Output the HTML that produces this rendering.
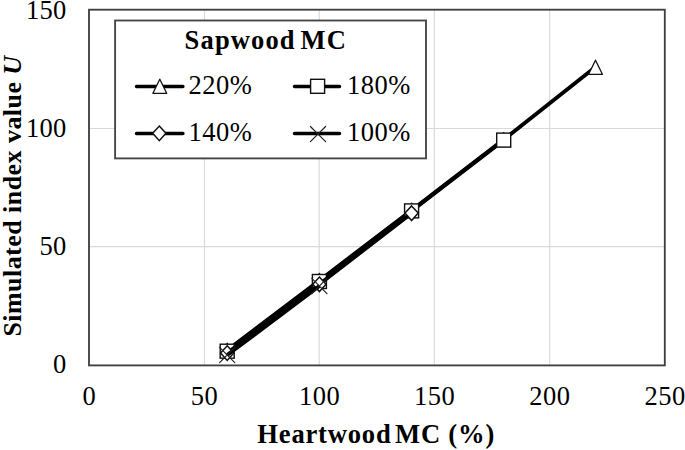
<!DOCTYPE html>
<html><head><meta charset="utf-8">
<style>
html,body{margin:0;padding:0;background:#fff;width:685px;height:450px;overflow:hidden}
svg{display:block}
text{font-family:"Liberation Serif",serif;fill:#000;font-kerning:none}
.t{font-size:26.5px;letter-spacing:0.5px}
.b{font-size:26px;font-weight:bold;letter-spacing:0.75px}
.lt{letter-spacing:1.15px;font-size:26.5px;word-spacing:-3px}
.yl{letter-spacing:0.45px}
</style></head><body>
<svg width="685" height="450" viewBox="0 0 685 450">
<defs>
<path id="tri" d="M0,-7.1 L6.9,7 L-6.9,7 Z" fill="#fff" stroke="#111" stroke-width="1.3" stroke-linejoin="round"/>
<rect id="sq" x="-7" y="-7" width="14" height="14" fill="#fff" stroke="#111" stroke-width="1.4"/>
<path id="dia" d="M0,-7.2 L6.6,0 L0,7.4 L-6.6,0 Z" fill="#fff" stroke="#111" stroke-width="1.5"/>
<path id="xx" d="M-7.6,-7.6 L7.6,7.6 M-7.6,7.6 L7.6,-7.6" fill="none" stroke="#222" stroke-width="1.2" stroke-linecap="round"/>
</defs>
<!-- gridlines -->
<g stroke="#dadada" stroke-width="1.2" fill="none">
<path d="M204.5,10V365 M319.2,10V365 M434.3,10V365 M549.7,10V365"/>
<path d="M89,128.5H665 M89,246.6H665"/>
</g>
<!-- plot border -->
<rect x="89" y="9.7" width="575.8" height="355.7" fill="none" stroke="#404040" stroke-width="1.85"/>
<!-- tick labels y -->
<g class="t" text-anchor="end" style="letter-spacing:0.3px">
<text x="66.6" y="18.5">150</text>
<text x="66.6" y="136.8">100</text>
<text x="66.6" y="254.8">50</text>
<text x="66.6" y="373.2">0</text>
</g>
<g class="t" text-anchor="middle">
<text x="89.3" y="405">0</text>
<text x="204.5" y="405">50</text>
<text x="319.5" y="405">100</text>
<text x="434.6" y="405">150</text>
<text x="549.8" y="405">200</text>
<text x="665" y="405">250</text>
</g>
<text class="b" x="376.2" y="442.5" text-anchor="middle" style="font-size:26.6px;letter-spacing:0.8px">Heartwood<tspan dx="-4"> MC (%)</tspan></text>
<text class="b yl" transform="translate(20.5,196) rotate(-90)" text-anchor="middle">Simulated index value <tspan font-style="italic">U</tspan></text>

<!-- series -->
<g fill="none" stroke="#000" stroke-width="3.9" stroke-linejoin="round">
<polyline points="227.2,350.3 319.4,280.5 411.6,210.2 503.7,139.6 595.5,67.0"/>
</g>
<use href="#tri" x="227.2" y="350.3"/><use href="#tri" x="319.4" y="280.5"/><use href="#tri" x="411.6" y="210.2"/><use href="#tri" x="503.7" y="139.7"/><use href="#tri" x="595.5" y="67.3"/>
<g fill="none" stroke="#000" stroke-width="3.9" stroke-linejoin="round">
<polyline points="227.2,351.2 319.4,281.5 411.6,210.9 503.7,140.1"/>
</g>
<use href="#sq" x="227.2" y="351.2"/><use href="#sq" x="319.4" y="281.5"/><use href="#sq" x="411.6" y="210.9"/><use href="#sq" x="503.7" y="140.1"/>
<g fill="none" stroke="#000" stroke-width="3.9" stroke-linejoin="round">
<polyline points="227.2,353 319.4,284.2 411.6,213.1"/>
</g>
<use href="#dia" x="227.2" y="353"/><use href="#dia" x="319.4" y="284.2"/><use href="#dia" x="411.6" y="213.1"/>
<g fill="none" stroke="#000" stroke-width="3.9" stroke-linejoin="round">
<polyline points="227.2,355 319.4,286"/>
</g>
<use href="#xx" x="227.2" y="355"/><use href="#xx" x="319.4" y="286"/>

<!-- legend -->
<rect x="115.1" y="20.5" width="310.9" height="137.9" fill="#fff" stroke="#444" stroke-width="1.85"/>
<text class="b lt" x="265.8" y="48.6" text-anchor="middle">Sapwood MC</text>
<g stroke="#000" stroke-width="3.5" stroke-linecap="round">
<path d="M136.5,86.4H182.9 M294.5,86.4H339.5 M136.5,133.4H182.9 M294.5,133.4H339.5"/>
</g>
<use href="#tri" x="159.8" y="86.3"/>
<use href="#sq" x="317.6" y="86.3"/>
<use href="#dia" x="159.3" y="133.3"/>
<use href="#xx" x="318" y="134.1"/>
<g class="t">
<text x="188.5" y="94">220%</text>
<text x="347" y="94">180%</text>
<text x="188.5" y="141">140%</text>
<text x="347" y="141">100%</text>
</g>
</svg>
</body></html>
